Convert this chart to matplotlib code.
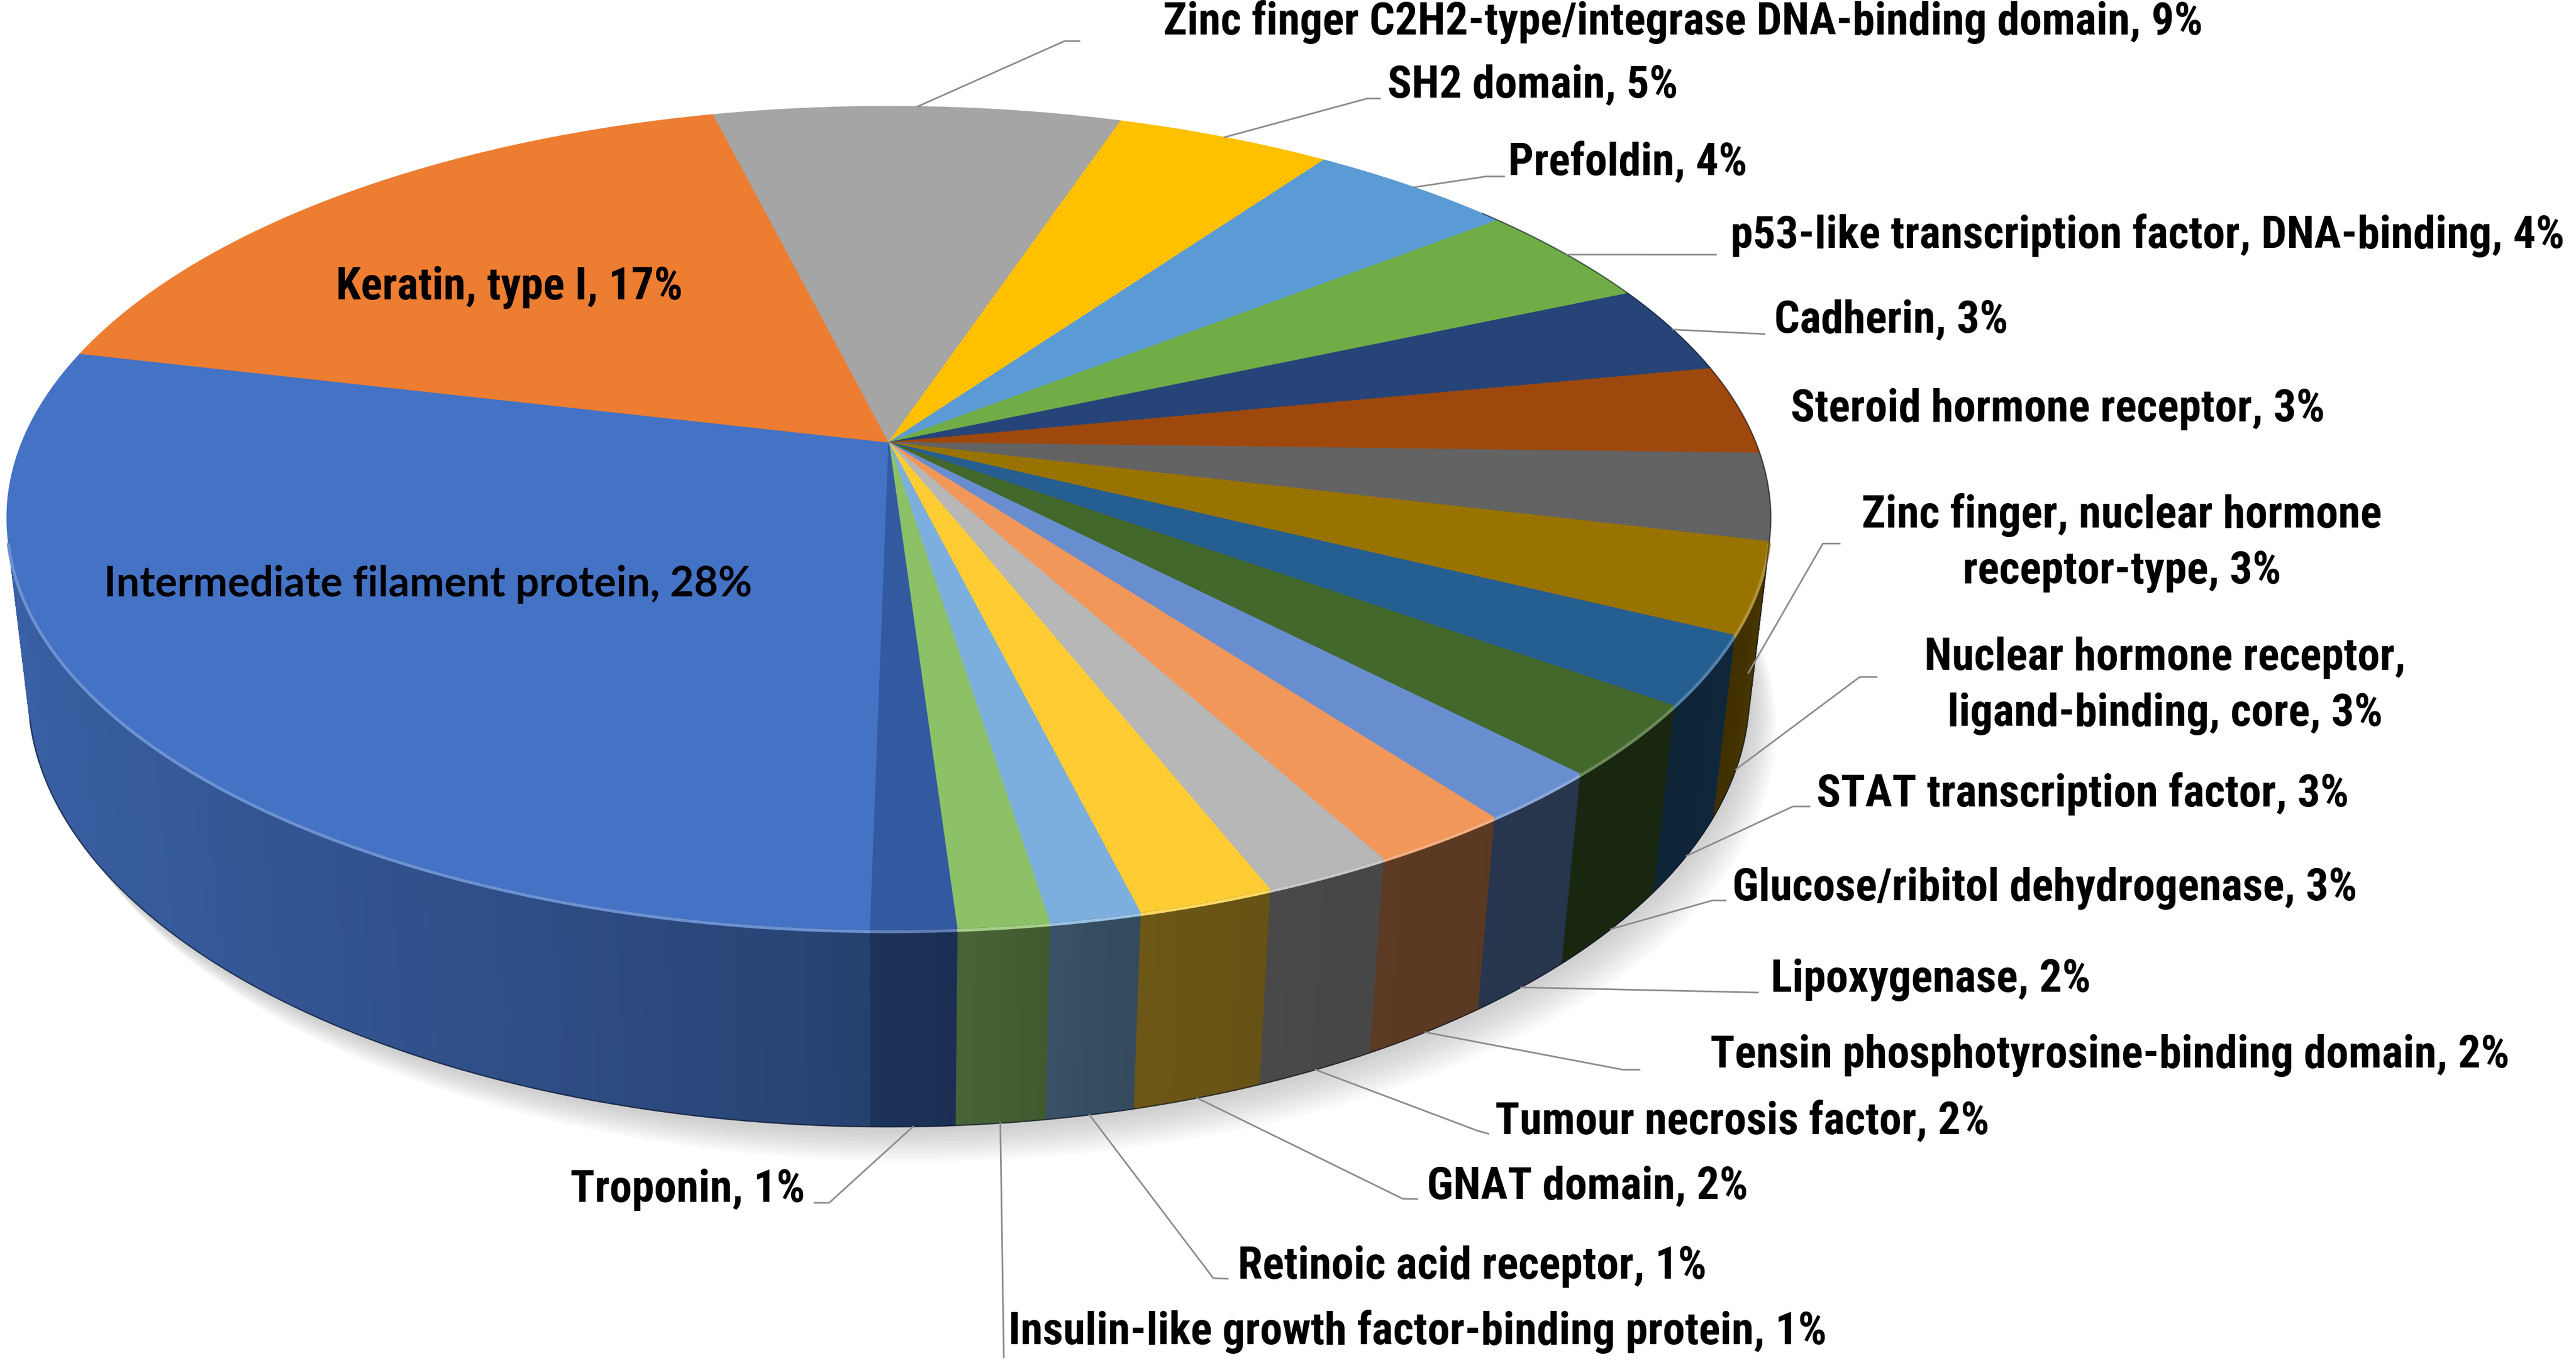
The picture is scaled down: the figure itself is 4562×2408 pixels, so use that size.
import numpy as np
import matplotlib
matplotlib.use('Agg')
import matplotlib.pyplot as plt
from matplotlib import font_manager
from matplotlib.colors import to_rgb
from matplotlib.patches import Polygon

# slices, clockwise starting at the bottom of the pie
names = ['Intermediate filament protein', 'Keratin, type I',
         'Zinc finger C2H2-type/integrase DNA-binding domain', 'SH2 domain', 'Prefoldin',
         'p53-like transcription factor, DNA-binding', 'Cadherin', 'Steroid hormone receptor',
         'Zinc finger, nuclear hormone\nreceptor-type', 'Nuclear hormone receptor,\nligand-binding, core',
         'STAT transcription factor', 'Glucose/ribitol dehydrogenase', 'Lipoxygenase',
         'Tensin phosphotyrosine-binding domain', 'Tumour necrosis factor', 'GNAT domain',
         'Retinoic acid receptor', 'Insulin-like growth factor-binding protein', 'Troponin']
pct_labels = [28, 17, 9, 5, 4, 4, 3, 3, 3, 3, 3, 3, 2, 2, 2, 2, 1, 1, 1]
# slice sizes (the printed labels are rounded)
shares = [28.4, 17.4, 8.9, 4.7, 4.5, 4.1, 3.5, 3.5, 3.4, 3.5, 2.7, 2.8,
          2.0, 2.2, 2.0, 2.1, 1.4, 1.4, 1.3]
colors = ['#4472C4', '#ED7D31', '#A5A5A5', '#FFC000', '#5B9BD5', '#70AD47',
          '#264478', '#9E480E', '#636363', '#997300', '#255E91', '#43682B',
          '#698ED0', '#F1975A', '#B7B7B7', '#FFCD33', '#7CAFDD', '#8CC168', '#335AA1']

# label anchor (x, baseline of last line, ha) in picture units
label_pos = [(260.4, 363, 'center'), (310, 182, 'center'), (708, 21, 'left'),
             (844.5, 59.5, 'left'), (918, 106.6, 'left'), (1053.5, 151, 'left'),
             (1080, 202.5, 'left'), (1090, 256.3, 'left'), (1291.6, 355, 'center'),
             (1318, 441.5, 'center'), (1105.6, 490.9, 'left'), (1054.5, 547.9, 'left'),
             (1078, 603.5, 'left'), (1041, 649.5, 'left'), (910, 690, 'left'),
             (868.6, 729.8, 'left'), (753.3, 778.1, 'left'), (614, 818, 'left'),
             (490, 731.3, 'right')]
# leader lines: points after the one on the pie edge
leaders = [None, None, [(648, 25), (657, 25)], [(832, 60), (840, 60)],
           [(904.5, 107.4), (915.6, 107.4)], [(1044.5, 155)], [(1074, 203.3)], None,
           [(1109.6, 330.8), (1119.8, 330.8)], [(1132, 412), (1142.3, 412)],
           [(1091.3, 490.8), (1101.5, 490.8)], [(1042.3, 548), (1050.4, 548)],
           [(1070, 604)], [(988, 651), (998, 651)], [(899, 688), (906, 690)],
           [(853.8, 729.5), (862.7, 729.7)], [(738.5, 777.8), (747.3, 778.2)],
           [(611, 826)], [(504.7, 732), (495.8, 732)]]

W, H = 1568.0, 1568.0 * 2408 / 4562
TILT = np.radians(29.7)
CAM = 4.84      # camera distance, pie radius = 1
THICK = 0.23
FOCAL = 2494.0
CX, CY = 541.0, 374.6
START = 269.0


def project(t, z):
    t = np.radians(t)
    x, y = np.cos(t), np.sin(t)
    zc = y * np.cos(TILT) + CAM - z * np.sin(TILT)
    return CX + FOCAL * x / zc, CY - FOCAL * (y * np.sin(TILT) + z * np.cos(TILT)) / zc


def shade(t):
    tt = np.mod(t, 360)
    return np.interp(tt, [180, 200, 225, 250, 265, 272, 277, 282, 295, 310, 325, 335, 345, 360],
                     [0.86, 0.84, 0.78, 0.68, 0.6, 0.54, 0.48, 0.43, 0.39, 0.37, 0.38, 0.42, 0.48, 0.5])


def mix(c, f, toward=(0, 0, 0)):
    c = np.array(to_rgb(c))
    return tuple(c * f + np.array(toward) * (1 - f))


fig = plt.figure(figsize=(4562 / 300, 2408 / 300), dpi=300)
ax = fig.add_axes([0, 0, 1, 1])
ax.set_xlim(0, W)
ax.set_ylim(H, 0)
ax.axis('off')

total = sum(shares)
t0 = START - 360 * np.cumsum([0] + shares[:-1]) / total
t1 = t0 - 360 * np.array(shares) / total
lim = np.degrees(np.arcsin(1 / (CAM * np.cos(TILT))))
visible = [(180 + lim, 360 - lim), (-180 + lim, -lim)]

# soft shadow under the pie
ring = np.linspace(0, 360, 361)
bx, by = project(ring, 0)
for k in range(10):
    ax.fill(bx + 2 + 1.6 * k, by + 3 + 2.0 * k, color='#707070', alpha=0.035, lw=0, zorder=1)

# side walls
for i in range(len(shares)):
    for lo, hi in visible:
        a, b = max(t1[i], lo), min(t0[i], hi)
        if b <= a:
            continue
        ts = np.linspace(a, b, max(2, int((b - a) / 0.5) + 2))
        for j in range(len(ts) - 1):
            ux, uy = project(ts[j:j + 2], THICK)
            dx, dy = project(ts[j:j + 2], 0)
            col = mix(colors[i], shade(0.5 * (ts[j] + ts[j + 1])))
            ax.add_patch(Polygon(np.c_[np.r_[ux, dx[::-1]], np.r_[uy, dy[::-1]]],
                                 fc=col, ec=col, lw=0.4, zorder=2))

# top faces
apx, apy = CX, CY - FOCAL * THICK * np.cos(TILT) / (CAM - THICK * np.sin(TILT))
for i in range(len(shares)):
    ts = np.linspace(t0[i], t1[i], max(3, int((t0[i] - t1[i]) / 0.4) + 2))
    px, py = project(ts, THICK)
    ax.add_patch(Polygon(np.c_[np.r_[apx, px], np.r_[apy, py]],
                         fc=colors[i], ec=colors[i], lw=0.3, zorder=3))
    # bevel highlight on the front rim
    for lo, hi in visible:
        a, b = max(t1[i], lo), min(t0[i], hi)
        if b > a:
            ts = np.linspace(a, b, 60)
            hx, hy = project(ts, THICK)
            ax.plot(hx, hy + 1.2, color=mix(colors[i], 0.78, (1, 1, 1)), lw=1.3,
                    solid_capstyle='butt', zorder=4)

# dark outline on the lower and right edges
ts = np.linspace(180 + lim, 360 - lim, 200)
ox, oy = project(ts, 0)
ax.plot(ox, oy, color='#10182a', lw=0.6, alpha=0.6, zorder=4)
ts = np.linspace(-lim, 40, 80)
ox, oy = project(ts, THICK)
rx, ry = project(-lim, 0)
ax.plot(np.r_[rx, ox], np.r_[ry, oy], color='#10182a', lw=0.6, alpha=0.55, zorder=4)

# fonts
installed = {f.name for f in font_manager.fontManager.ttflist}
narrow = next((f for f in ['Liberation Sans Narrow', 'Roboto Condensed', 'Liberation Sans']
               if f in installed), 'DejaVu Sans')
wide = next((f for f in ['Lato', 'Open Sans', 'Noto Sans'] if f in installed), 'DejaVu Sans')
renderer = fig.canvas.get_renderer()


def fitted_size(text, family, target):
    probe = ax.text(0, 0, text, fontsize=10, family=family, fontweight='bold')
    width = probe.get_window_extent(renderer=renderer).width
    probe.remove()
    return 10 * target / (width * W / fig.bbox.width)


size_out = fitted_size('p53-like transcription factor, DNA-binding, 4%', narrow, 508)
size_in = fitted_size('Intermediate filament protein, 28%', wide, 394.6)

# leader lines
mids = 0.5 * (t0 + t1)
for i, path in enumerate(leaders):
    if path is None:
        continue
    sx, sy = project(mids[i], THICK if np.sin(np.radians(mids[i])) > 0 else 0)
    xs = [float(sx)] + [p[0] for p in path]
    ys = [float(sy)] + [p[1] for p in path]
    ax.plot(xs, ys, color='#8c8c8c', lw=0.7, zorder=5)

# labels
for i, name in enumerate(names):
    text = '{}, {}%'.format(name, pct_labels[i])
    x, y, ha = label_pos[i]
    family, size = (wide, size_in) if i == 0 else (narrow, size_out)
    lines = text.split('\n')
    for k, line in enumerate(lines):
        ax.text(x, y - 34 * (len(lines) - 1 - k), line, ha=ha, va='baseline',
                family=family, fontweight='bold', fontsize=size, color='black', zorder=6)

fig.savefig('out.png', dpi=300, facecolor='white')
